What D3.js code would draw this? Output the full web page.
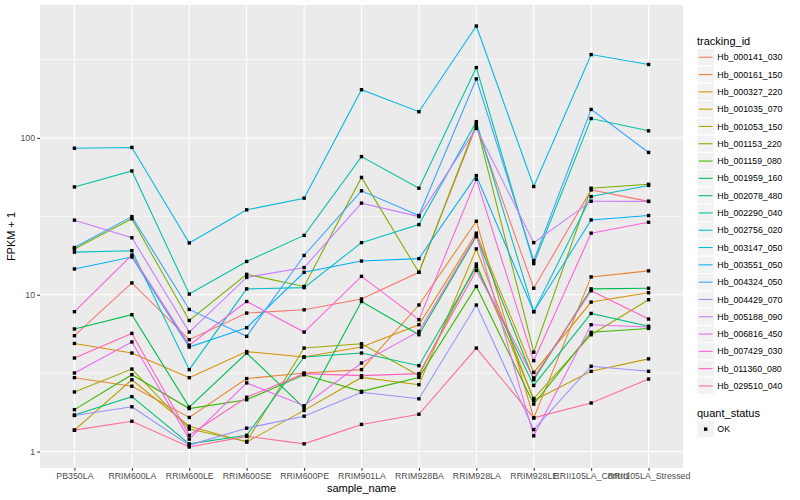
<!DOCTYPE html>
<html>
<head>
<meta charset="utf-8">
<script src="https://cdn.jsdelivr.net/npm/d3@7"></script>
<style>
  body { margin: 0; background: #fff; }
  svg { display: block; }
  text { font-family: "Liberation Sans", Arial, Helvetica, sans-serif; }
</style>
</head>
<body>
<svg id="chart" width="800" height="500"></svg>
<script>
// ---------- data ----------
const samples = ["PB350LA", "RRIM600LA", "RRIM600LE", "RRIM600SE", "RRIM600PE", "RRIM901LA",
  "RRIM928BA", "RRIM928LA", "RRIM928LE", "RRII105LA_Control", "RRII105LA_Stressed"];

const trackingIds = ["Hb_000141_030", "Hb_000161_150", "Hb_000327_220", "Hb_001035_070",
  "Hb_001053_150", "Hb_001153_220", "Hb_001159_080", "Hb_001959_160", "Hb_002078_480",
  "Hb_002290_040", "Hb_002756_020", "Hb_003147_050", "Hb_003551_050", "Hb_004324_050",
  "Hb_004429_070", "Hb_005188_090", "Hb_006816_450", "Hb_007429_030", "Hb_011360_080",
  "Hb_029510_040"];

// FPKM + 1, one row per tracking_id, one value per sample
const fpkmPlusOne = [
  [5.48, 11.9, 5.17, 7.64, 8.02, 9.4, 13.9, 119, 11, 46.6, 39.4],      // Hb_000141_030
  [2.96, 2.61, 1.65, 2.92, 3.17, 3.33, 8.6, 29.4, 1.64, 13, 14.2],     // Hb_000161_150
  [4.89, 4.25, 2.96, 4.34, 4.01, 4.64, 6.44, 24.7, 3.2, 8.98, 10.3],   // Hb_000327_220
  [1.37, 2.87, 1.45, 1.15, 1.83, 2.97, 2.67, 19.6, 2.12, 3.25, 3.9],   // Hb_001035_070
  [2.4, 3.36, 1.39, 1.16, 4.57, 4.87, 3.06, 15.7, 2.18, 5.56, 9.3],    // Hb_001053_150
  [19.6, 30.5, 6.85, 13.5, 11.3, 56, 13.9, 123, 4.3, 47.8, 50.6],      // Hb_001153_220
  [1.85, 3.09, 1.88, 2.14, 3.09, 2.42, 2.97, 11.3, 2.01, 5.76, 6.1],   // Hb_001159_080
  [6.05, 7.46, 1.92, 4.25, 1.9, 9.06, 5.56, 23.5, 2.87, 10.9, 11],     // Hb_001959_160
  [1.71, 2.24, 1.12, 1.27, 4.01, 4.25, 3.53, 15.1, 2.64, 7.6, 6.3],    // Hb_002078_480
  [48.7, 61.6, 10.1, 16.3, 23.9, 76, 47.8, 281, 15.8, 133, 111],       // Hb_002290_040
  [18.7, 19.1, 3.33, 10.9, 11.1, 21.5, 28, 127, 7.8, 42.3, 49.8],      // Hb_002756_020
  [86, 87, 21.4, 34.8, 41.3, 203, 147, 517, 49, 340, 294],             // Hb_003147_050
  [14.6, 17.4, 4.64, 6.16, 13.9, 16.4, 17, 57.5, 7.8, 30, 32],         // Hb_003551_050
  [20, 31.5, 8.06, 5.43, 17.8, 46, 32, 238, 16.5, 152, 80.8],          // Hb_004324_050
  [1.7, 1.93, 1.1, 1.41, 1.68, 2.39, 2.17, 8.6, 1.38, 3.5, 3.25],      // Hb_004429_070
  [29.9, 23.1, 5.78, 12.9, 14.9, 38.4, 31.5, 115, 21.5, 39.5, 39.4],   // Hb_005188_090
  [3.17, 5.0, 1.2, 2.74, 1.96, 3.67, 5.84, 24, 1.26, 6.44, 6.22],      // Hb_006816_450
  [7.8, 17.9, 4.77, 9.06, 5.78, 13.1, 6.93, 54.5, 3.8, 24.7, 29],      // Hb_007429_030
  [3.95, 5.67, 1.27, 2.22, 3.14, 3.05, 3.14, 14.3, 2.95, 10.6, 7.0],   // Hb_011360_080
  [1.37, 1.56, 1.07, 1.25, 1.12, 1.49, 1.73, 4.57, 1.64, 2.04, 2.9]    // Hb_029510_040
];

const yTicks = [1, 10, 100];
const yMinorTicks = [3.1623, 31.623, 316.23];
const quantStatus = ["OK"];

// ---------- colours: ggplot hue palette (polar LUV) ----------
function hclColor(h, c, l) {
  const hr = h * Math.PI / 180;
  const U = c * Math.cos(hr), V = c * Math.sin(hr);
  const Y = 100 * (l > 7.999592 ? Math.pow((l + 16) / 116, 3) : l / 903.3);
  const u = U / (13 * l) + 0.1978398, v = V / (13 * l) + 0.4683363;
  const X = 9 * Y * u / (4 * v);
  const Z = -X / 3 - 5 * Y + 3 * Y / v;
  const g = t => { t = t / 100; const r = t > 0.00304 ? 1.055 * Math.pow(t, 1 / 2.4) - 0.055 : 12.92 * t; return Math.max(0, Math.min(1, r)); };
  const R = g(3.240479 * X - 1.537150 * Y - 0.498535 * Z);
  const G = g(-0.969256 * X + 1.875992 * Y + 0.041556 * Z);
  const B = g(0.055648 * X - 0.204043 * Y + 1.057311 * Z);
  return d3.rgb(Math.round(R * 255), Math.round(G * 255), Math.round(B * 255)).formatHex();
}
const n = trackingIds.length;
const colors = trackingIds.map((_, i) => hclColor(15 + i * 360 / n, 100, 65));
const color = d3.scaleOrdinal().domain(trackingIds).range(colors);

// ---------- layout ----------
const svg = d3.select("#chart");
const panel = { left: 40, right: 683, top: 5, bottom: 468 };

const allVals = fpkmPlusOne.flat();
const lmin = Math.log10(d3.min(allVals)), lmax = Math.log10(d3.max(allVals));
const pad = (lmax - lmin) * 0.05;
const y = d3.scaleLog()
  .domain([Math.pow(10, lmin - pad), Math.pow(10, lmax + pad)])
  .range([panel.bottom, panel.top]);
const x = d3.scalePoint().domain(samples).range([panel.left, panel.right]).padding(0.6);

svg.append("rect").attr("width", 800).attr("height", 500).attr("fill", "#fff");
svg.append("rect")
  .attr("x", panel.left).attr("y", panel.top)
  .attr("width", panel.right - panel.left).attr("height", panel.bottom - panel.top)
  .attr("fill", "#EBEBEB");

// grid
const grid = svg.append("g");
grid.selectAll(".ymin").data(yMinorTicks).join("line")
  .attr("x1", panel.left).attr("x2", panel.right)
  .attr("y1", d => y(d)).attr("y2", d => y(d))
  .attr("stroke", "#fff").attr("stroke-width", 0.55);
grid.selectAll(".ymaj").data(yTicks).join("line")
  .attr("x1", panel.left).attr("x2", panel.right)
  .attr("y1", d => y(d)).attr("y2", d => y(d))
  .attr("stroke", "#fff").attr("stroke-width", 1.1);
grid.selectAll(".xmaj").data(samples).join("line")
  .attr("y1", panel.top).attr("y2", panel.bottom)
  .attr("x1", d => x(d)).attr("x2", d => x(d))
  .attr("stroke", "#fff").attr("stroke-width", 1.1);

// lines
const line = d3.line().x((d, i) => x(samples[i])).y(d => y(d));
svg.append("g").selectAll("path").data(fpkmPlusOne).join("path")
  .attr("d", d => line(d))
  .attr("fill", "none")
  .attr("stroke", (d, i) => color(trackingIds[i]))
  .attr("stroke-width", 1.07);

// points
const pts = [];
fpkmPlusOne.forEach((row, i) => row.forEach((v, j) => pts.push({ s: samples[j], v })));
const ps = 3.4;
svg.append("g").selectAll("rect").data(pts).join("rect")
  .attr("x", d => x(d.s) - ps / 2).attr("y", d => y(d.v) - ps / 2)
  .attr("width", ps).attr("height", ps).attr("fill", "#000");

// axes
const yAxis = d3.axisLeft(y).tickValues(yTicks).tickFormat(d3.format("d")).tickSize(2.75).tickPadding(2.2);
const gy = svg.append("g").attr("transform", `translate(${panel.left},0)`).call(yAxis);
gy.select(".domain").remove();
gy.selectAll(".tick line").attr("stroke", "#333333").attr("stroke-width", 1.07);
gy.selectAll(".tick text").attr("fill", "#4D4D4D").style("font-size", "8.8px")
  .style("font-family", "'Liberation Sans', Arial, sans-serif");

const xAxis = d3.axisBottom(x).tickSize(2.75).tickPadding(2.2);
const gx = svg.append("g").attr("transform", `translate(0,${panel.bottom})`).call(xAxis);
gx.select(".domain").remove();
gx.selectAll(".tick line").attr("stroke", "#333333").attr("stroke-width", 1.07);
gx.selectAll(".tick text").attr("fill", "#4D4D4D").style("font-size", "8.8px")
  .style("font-family", "'Liberation Sans', Arial, sans-serif");

svg.append("text").attr("x", (panel.left + panel.right) / 2).attr("y", 492)
  .attr("text-anchor", "middle").style("font-size", "11px").attr("fill", "#000")
  .text("sample_name");
svg.append("text")
  .attr("transform", `translate(15,${(panel.top + panel.bottom) / 2}) rotate(-90)`)
  .attr("text-anchor", "middle").style("font-size", "11px").attr("fill", "#000")
  .text("FPKM + 1");

// legend: tracking_id
const lg = svg.append("g");
const keyX = 697, keySize = 17.3, firstKey = 48.6;
lg.append("text").attr("x", keyX).attr("y", 44.5).style("font-size", "11px").attr("fill", "#000")
  .text("tracking_id");
const items = lg.selectAll(".item").data(trackingIds).join("g")
  .attr("transform", (d, i) => `translate(${keyX},${firstKey + i * keySize})`);
items.append("rect").attr("width", keySize).attr("height", keySize)
  .attr("fill", "#F2F2F2").attr("stroke", "#fff").attr("stroke-width", 1);
items.append("line").attr("x1", 1.7).attr("x2", keySize - 1.7)
  .attr("y1", keySize / 2).attr("y2", keySize / 2)
  .attr("stroke", d => color(d)).attr("stroke-width", 1.07);
items.append("text").attr("x", keySize + 3).attr("y", keySize / 2 + 3.1)
  .style("font-size", "8.8px").attr("fill", "#000").text(d => d);

// legend: quant_status
const qy = 420.5;
lg.append("text").attr("x", keyX).attr("y", qy - 4).style("font-size", "11px").attr("fill", "#000")
  .text("quant_status");
const qItems = lg.selectAll(".q").data(quantStatus).join("g")
  .attr("transform", (d, i) => `translate(${keyX},${qy + i * keySize})`);
qItems.append("rect").attr("width", keySize).attr("height", keySize)
  .attr("fill", "#F2F2F2").attr("stroke", "#fff").attr("stroke-width", 1);
qItems.append("rect").attr("x", keySize / 2 - ps / 2).attr("y", keySize / 2 - ps / 2)
  .attr("width", ps).attr("height", ps).attr("fill", "#000");
qItems.append("text").attr("x", keySize + 3).attr("y", keySize / 2 + 3.1)
  .style("font-size", "8.8px").attr("fill", "#000").text(d => d);
</script>
</body>
</html>
